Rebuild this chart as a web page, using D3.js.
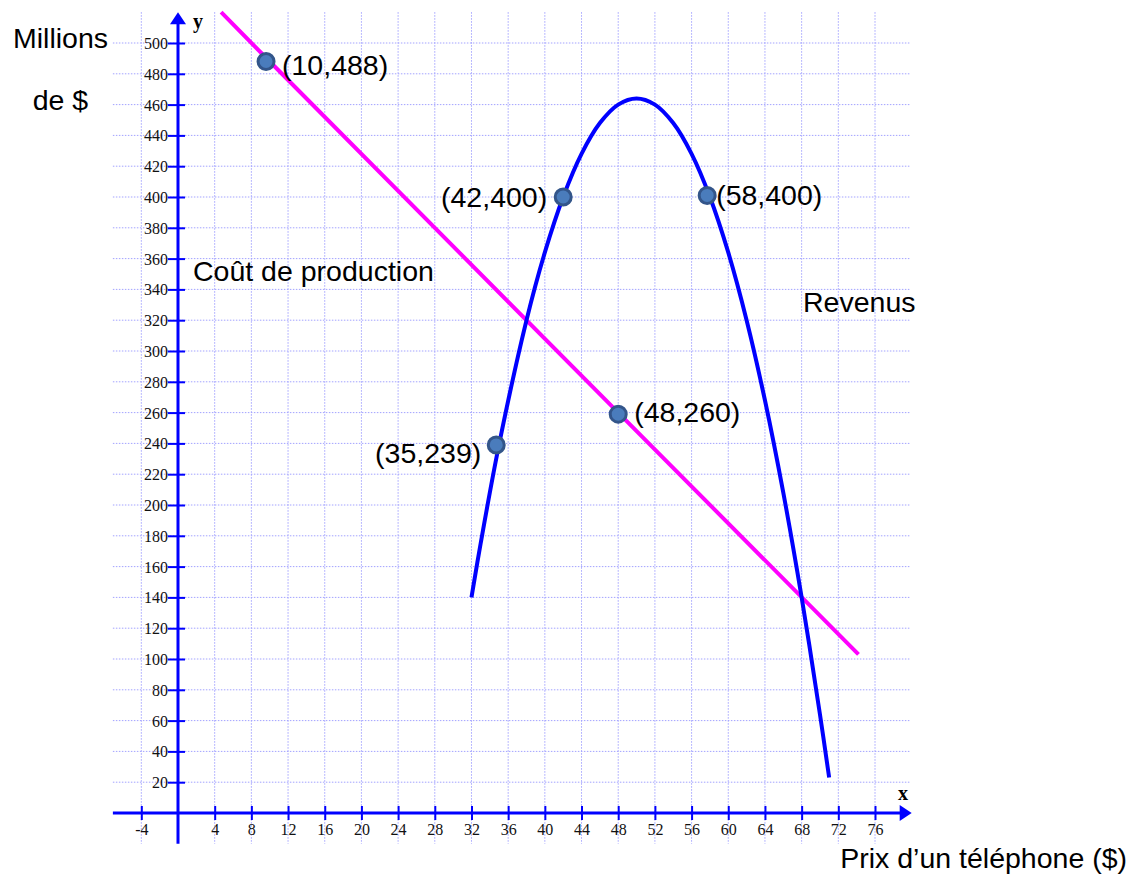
<!DOCTYPE html>
<html>
<head>
<meta charset="UTF-8">
<script src="https://cdn.jsdelivr.net/npm/d3@7"></script>
<style>
  body { margin: 0; background: #fff; }
  .grid line { stroke: #a3a3ff; stroke-width: 1; stroke-dasharray: 1.5,1.5; }
  .tick text { font-family: "Liberation Serif", serif; font-size: 16px; fill: #111; }
  .lbl { font-family: "Liberation Sans", Arial, sans-serif; font-size: 28.5px; fill: #000; }
</style>
</head>
<body>
<div id="chart"></div>
<script>
// ticks
var xTicks = [-4, 4, 8, 12, 16, 20, 24, 28, 32, 36, 40, 44, 48, 52, 56, 60, 64, 68, 72, 76];
var yTicks = [20, 40, 60, 80, 100, 120, 140, 160, 180, 200, 220, 240, 260, 280, 300, 320, 340, 360, 380, 400, 420, 440, 460, 480, 500];

// Coût de production (straight line)
var costX = [4.7, 10, 48, 74.2];
var costY = [520, 488, 260, 103];

// Revenus
var revX = [32, 33, 35, 38, 40, 42, 44, 46, 48, 50, 52, 54, 56, 58, 60, 62, 64, 66, 68, 70, 71];
var revY = [140, 175, 239, 320, 364, 400, 428, 448, 460, 464, 460, 448, 428, 400, 364, 320, 268, 208, 140, 64, 23];

// marked points
var markX = [9.6, 34.7, 42, 48, 57.7];
var markY = [488, 239, 400, 259, 401];
var markLabels = ["(10,488)", "(35,239)", "(42,400)", "(48,260)", "(58,400)"];

var width = 1137, height = 876;

// scales: x=0 at 178px, y=0 at 813px
var x = d3.scaleLinear().domain([0, 76]).range([178, 875]);
var y = d3.scaleLinear().domain([0, 500]).range([813, 43]);

var svg = d3.select("#chart").append("svg")
    .attr("width", width)
    .attr("height", height);

// grid
var xMin = -7.1, xMax = 80, yMin = -20, yMax = 520;
var grid = svg.append("g").attr("class", "grid");
grid.selectAll(".gv").data(xTicks).enter().append("line")
    .attr("x1", d => x(d)).attr("x2", d => x(d))
    .attr("y1", y(yMax)).attr("y2", y(yMin));
grid.selectAll(".gh").data(yTicks).enter().append("line")
    .attr("x1", x(xMin)).attr("x2", x(xMax) - 2)
    .attr("y1", d => y(d)).attr("y2", d => y(d));

// axes lines with arrows
var axisColor = "#0000ff";
svg.append("line")
    .attr("x1", x(xMin)).attr("x2", x(xMax) - 8)
    .attr("y1", y(0)).attr("y2", y(0))
    .attr("stroke", axisColor).attr("stroke-width", 3);
svg.append("path")
    .attr("d", "M" + x(xMax) + "," + y(0) + "l-12,-8l0,16z")
    .attr("fill", axisColor);
svg.append("line")
    .attr("x1", x(0)).attr("x2", x(0))
    .attr("y1", y(yMin)).attr("y2", y(yMax) + 8)
    .attr("stroke", axisColor).attr("stroke-width", 3);
svg.append("path")
    .attr("d", "M" + x(0) + "," + y(yMax) + "l-8,12l16,0z")
    .attr("fill", axisColor);

// x axis ticks
var gx = svg.append("g")
    .attr("transform", "translate(0," + y(0) + ")")
    .call(d3.axisBottom(x).tickValues(xTicks).tickFormat(d => String(d)).tickSize(7).tickPadding(0));
gx.select(".domain").remove();
gx.selectAll(".tick line").attr("y1", -7).attr("stroke", axisColor).attr("stroke-width", 2);
gx.selectAll(".tick text").attr("y", 22).attr("dy", 0);

// y axis ticks
var gy = svg.append("g")
    .attr("transform", "translate(" + x(0) + ",0)")
    .call(d3.axisLeft(y).tickValues(yTicks).tickFormat(d => String(d)).tickSize(9).tickPadding(0));
gy.select(".domain").remove();
gy.selectAll(".tick line").attr("x2", 7).attr("x1", -10).attr("stroke", axisColor).attr("stroke-width", 2);
gy.selectAll(".tick text").attr("x", -10).attr("dy", "0.34em");

// axis letters
svg.append("text").attr("x", x(0) + 20).attr("y", y(yMax) + 16)
    .attr("text-anchor", "middle")
    .style("font-family", "Liberation Serif, serif").style("font-weight", "bold").style("font-size", "20px")
    .text("y");
svg.append("text").attr("x", 903).attr("y", y(0) - 13)
    .attr("text-anchor", "middle")
    .style("font-family", "Liberation Serif, serif").style("font-weight", "bold").style("font-size", "20px")
    .text("x");

// cost line
var line = d3.line().x(d => x(d[0])).y(d => y(d[1]));
svg.append("path")
    .attr("d", line(d3.zip(costX, costY)))
    .attr("fill", "none").attr("stroke", "#ff00ff").attr("stroke-width", 4);

// revenue curve
var curve = d3.line().x(d => x(d[0])).y(d => y(d[1])).curve(d3.curveCatmullRom);
svg.append("path")
    .attr("d", curve(d3.zip(revX, revY)))
    .attr("fill", "none").attr("stroke", "#0000ff").attr("stroke-width", 4);

// markers
var marks = d3.zip(markX, markY, markLabels);
svg.selectAll(".mk").data(marks).enter().append("circle")
    .attr("cx", d => x(d[0])).attr("cy", d => y(d[1]))
    .attr("r", 8)
    .attr("fill", "#4a7cbc").attr("stroke", "#33558a").attr("stroke-width", 3);

// label placement: [dx, dy, anchor]
var place = [[16, 14, "start"], [-15, 18, "end"], [-16, 10, "end"], [16, 8, "start"], [9, 10, "start"]];
svg.selectAll(".ml").data(marks).enter().append("text")
    .attr("class", "lbl")
    .attr("x", (d, i) => x(d[0]) + place[i][0])
    .attr("y", (d, i) => y(d[1]) + place[i][1])
    .attr("text-anchor", (d, i) => place[i][2])
    .text(d => d[2]);

// titles
svg.append("text").attr("class", "lbl").attr("x", 60.5).attr("y", 48).attr("text-anchor", "middle").text("Millions");
svg.append("text").attr("class", "lbl").attr("x", 60.5).attr("y", 110).attr("text-anchor", "middle").text("de $");
svg.append("text").attr("class", "lbl").attr("x", 193).attr("y", 281).text("Coût de production");
svg.append("text").attr("class", "lbl").attr("x", 803).attr("y", 312).text("Revenus");
svg.append("text").attr("class", "lbl").attr("x", 1127).attr("y", 868).attr("text-anchor", "end").text("Prix d’un téléphone ($)");
</script>
</body>
</html>
